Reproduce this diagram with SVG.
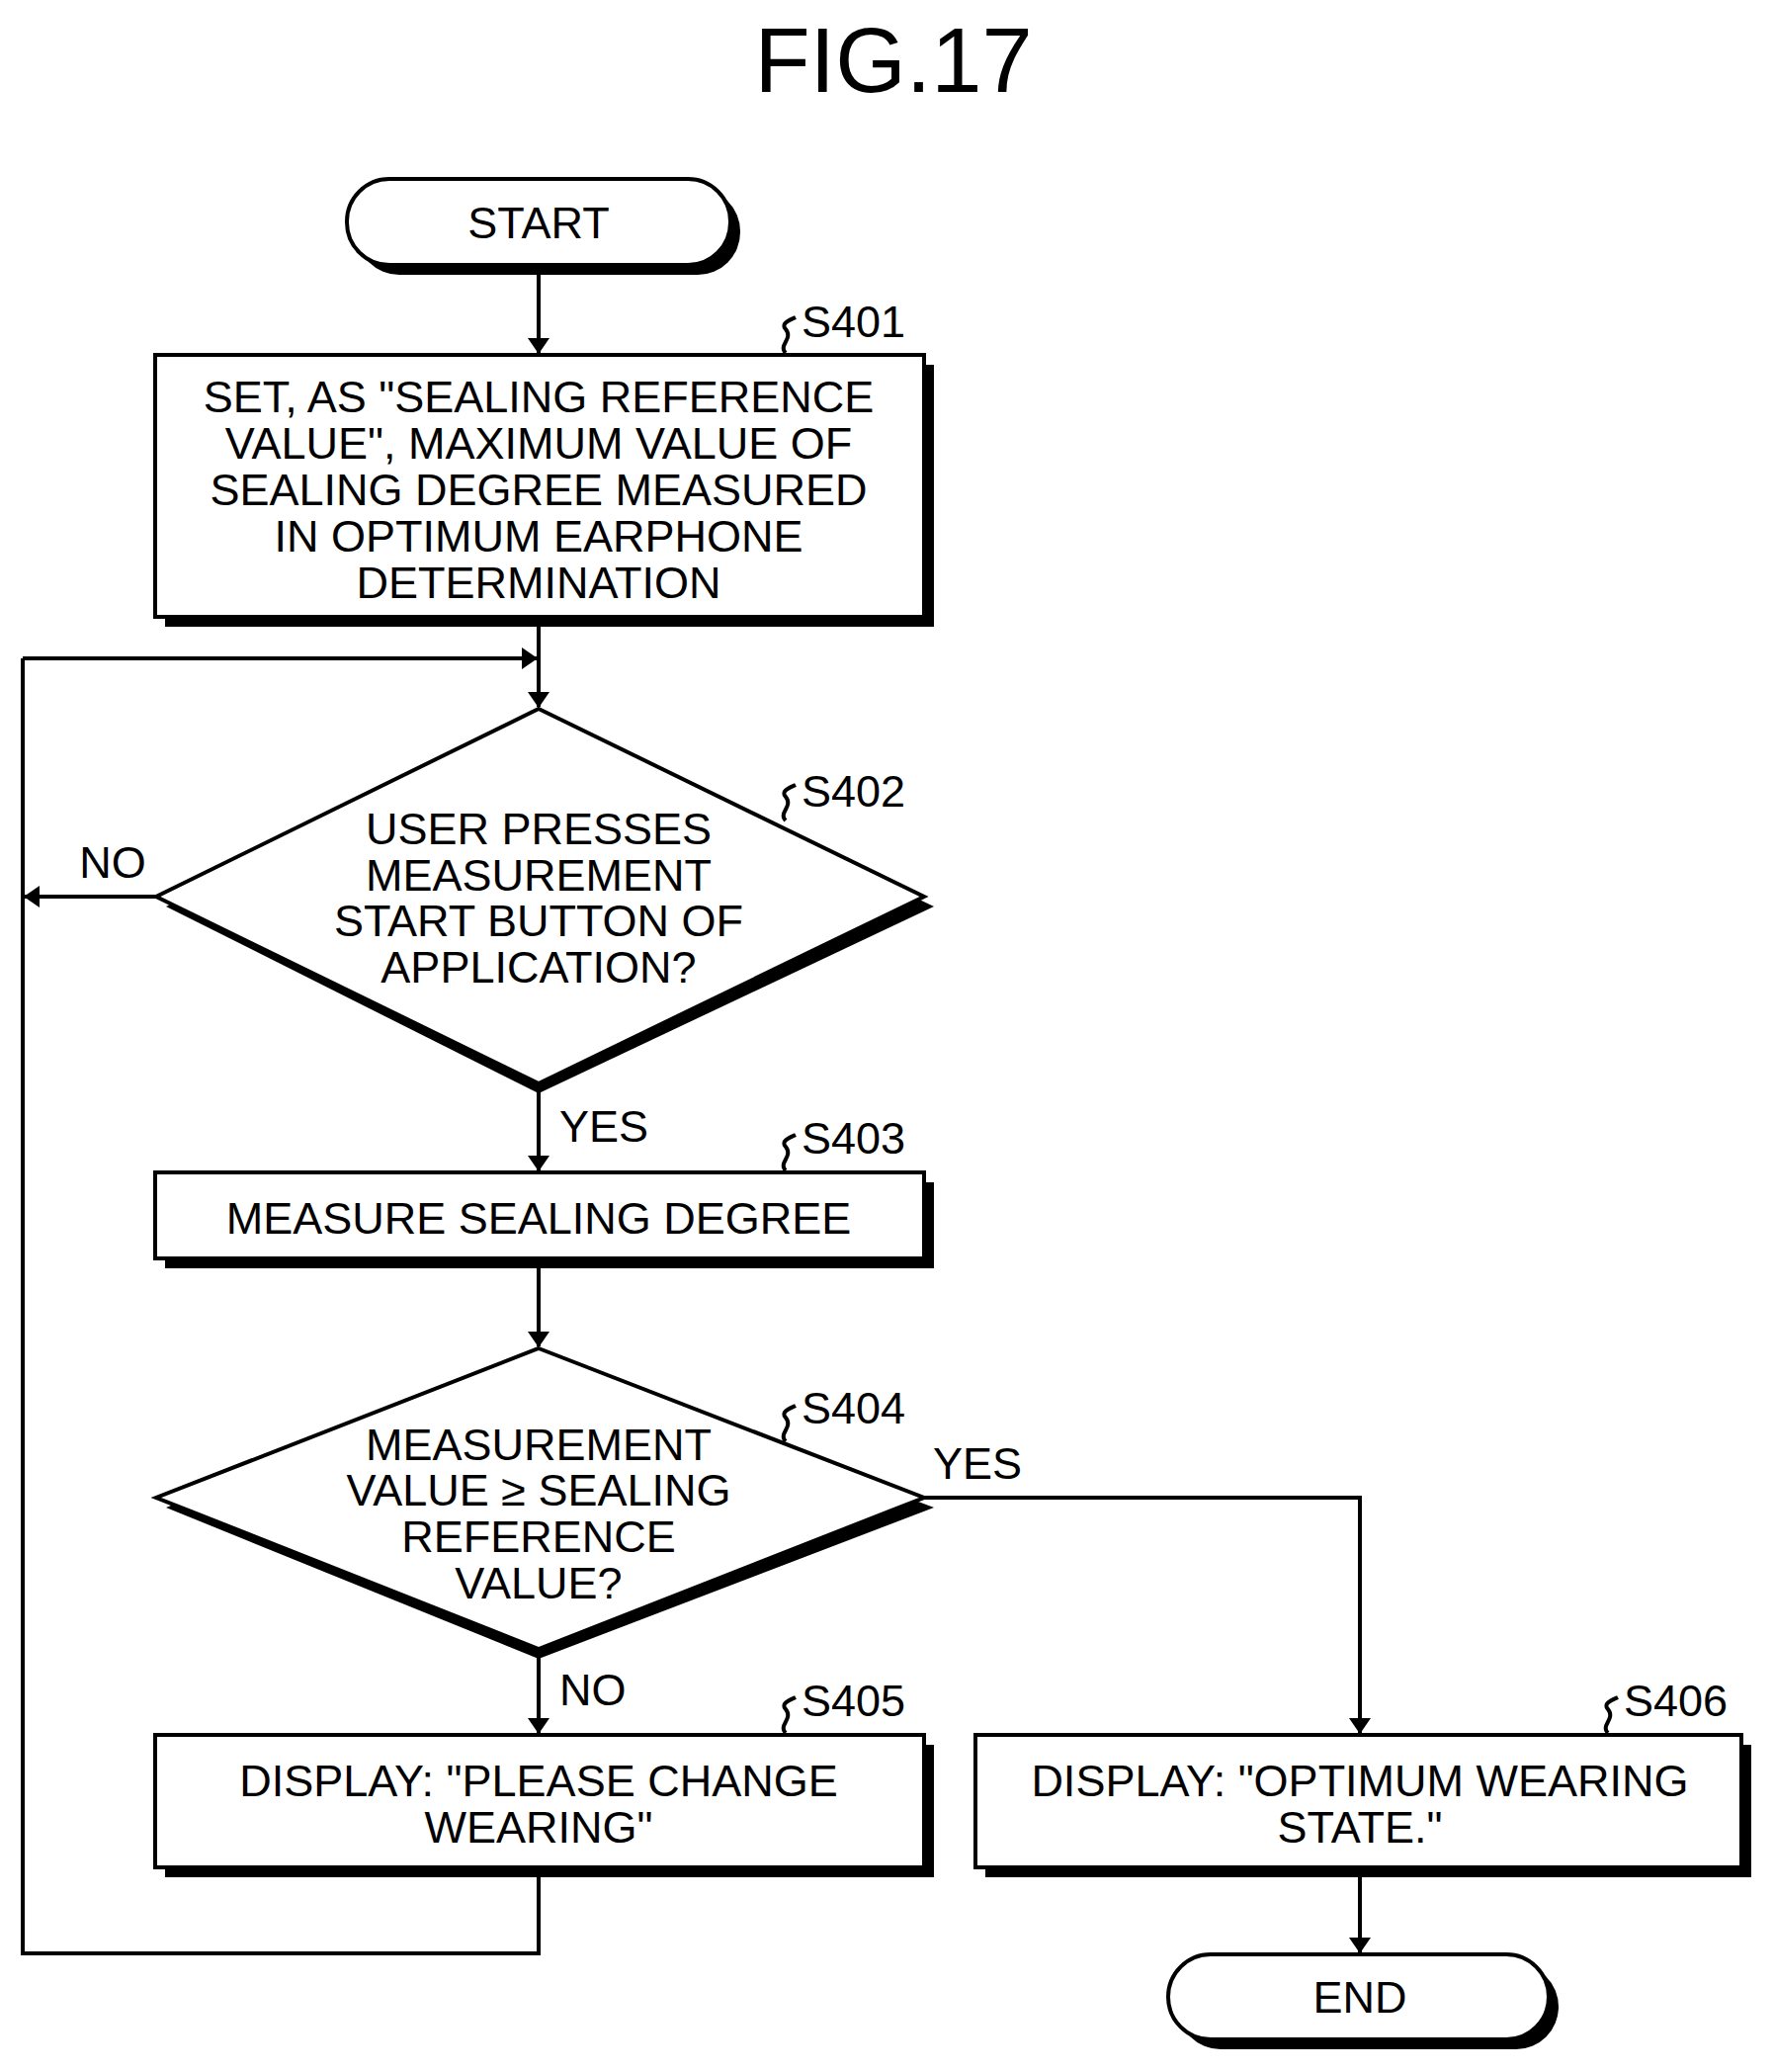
<svg xmlns="http://www.w3.org/2000/svg" width="1795" height="2096" viewBox="0 0 1795 2096">
<style>
text{font-family:"Liberation Sans",Arial,sans-serif;font-size:45px;fill:#000}
.c{text-anchor:middle}
.b{fill:#fff;stroke:#000;stroke-width:4}
.s{fill:#000}
.l{fill:none;stroke:#000;stroke-width:4}
</style>
<defs><marker id="a" markerWidth="16" markerHeight="22" refX="15" refY="11" orient="auto" markerUnits="userSpaceOnUse" viewBox="0 0 16 22"><path d="M0,0L16,11L0,22z"/></marker></defs>
<rect width="1795" height="2096" fill="#fff"/>
<text x="904" y="93" class="c" style="font-size:92px">FIG.17</text>
<g id="connectors">
<path class="l" d="M545,268V357" marker-end="url(#a)"/>
<path class="l" d="M545,624V715" marker-end="url(#a)"/>
<path class="l" d="M23,666H543" marker-end="url(#a)"/>
<path class="l" d="M158,907H25" marker-end="url(#a)"/>
<path class="l" d="M545,1096V1184" marker-end="url(#a)"/>
<path class="l" d="M545,1273V1362" marker-end="url(#a)"/>
<path class="l" d="M545,1668V1753" marker-end="url(#a)"/>
<path class="l" d="M935,1515H1376V1753" marker-end="url(#a)"/>
<path class="l" d="M545,1889V1976H23V666"/>
<path class="l" d="M1376,1889V1975" marker-end="url(#a)"/>
<text x="114" y="888" class="c">NO</text>
<text x="566" y="1155">YES</text>
<text x="944" y="1496">YES</text>
<text x="566" y="1725">NO</text>
</g>
<g id="start"><rect class="s" x="361" y="191" width="388" height="87" rx="43"/><rect class="b" x="351" y="181" width="388" height="87" rx="43"/><text x="545" y="241" class="c">START</text></g>
<g id="s401"><rect class="s" x="167" y="369" width="778" height="265"/><rect class="b" x="157" y="359" width="778" height="265"/>
<text class="c"><tspan x="545" y="417">SET, AS "SEALING REFERENCE</tspan><tspan x="545" y="464">VALUE", MAXIMUM VALUE OF</tspan><tspan x="545" y="511">SEALING DEGREE MEASURED</tspan><tspan x="545" y="558">IN OPTIMUM EARPHONE</tspan><tspan x="545" y="605">DETERMINATION</tspan></text>
<path class="l" stroke-width="2" d="M795,357c-8,-8 8,-14 0,-24c-6,-6 6,-10 10,-12"/><text x="811" y="341">S401</text></g>
<g id="s402"><path class="s" d="M545,727L945,917L545,1106L168,917z"/><path class="b" d="M545,717L935,907L545,1096L158,907z"/>
<text class="c"><tspan x="545" y="854">USER PRESSES</tspan><tspan x="545" y="901">MEASUREMENT</tspan><tspan x="545" y="947">START BUTTON OF</tspan><tspan x="545" y="994">APPLICATION?</tspan></text>
<path class="l" stroke-width="2" d="M795,830c-8,-8 8,-14 0,-24c-6,-6 6,-10 10,-12"/><text x="811" y="816">S402</text></g>
<g id="s403"><rect class="s" x="167" y="1196" width="778" height="87"/><rect class="b" x="157" y="1186" width="778" height="87"/><text x="545" y="1248" class="c">MEASURE SEALING DEGREE</text>
<path class="l" stroke-width="2" d="M795,1184c-8,-8 8,-14 0,-24c-6,-6 6,-10 10,-12"/><text x="811" y="1167">S403</text></g>
<g id="s404"><path class="s" d="M545,1374L945,1525L545,1678L168,1525z"/><path class="b" d="M545,1364L935,1515L545,1668L158,1515z"/>
<text class="c"><tspan x="545" y="1477">MEASUREMENT</tspan><tspan x="545" y="1523">VALUE ≥ SEALING</tspan><tspan x="545" y="1570">REFERENCE</tspan><tspan x="545" y="1617">VALUE?</tspan></text>
<path class="l" stroke-width="2" d="M795,1458c-8,-8 8,-14 0,-24c-6,-6 6,-10 10,-12"/><text x="811" y="1440">S404</text></g>
<g id="s405"><rect class="s" x="167" y="1765" width="778" height="134"/><rect class="b" x="157" y="1755" width="778" height="134"/>
<text class="c"><tspan x="545" y="1817">DISPLAY: "PLEASE CHANGE</tspan><tspan x="545" y="1864">WEARING"</tspan></text>
<path class="l" stroke-width="2" d="M795,1753c-8,-8 8,-14 0,-24c-6,-6 6,-10 10,-12"/><text x="811" y="1736">S405</text></g>
<g id="s406"><rect class="s" x="997" y="1765" width="775" height="134"/><rect class="b" x="987" y="1755" width="775" height="134"/>
<text class="c"><tspan x="1376" y="1817">DISPLAY: "OPTIMUM WEARING</tspan><tspan x="1376" y="1864">STATE."</tspan></text>
<path class="l" stroke-width="2" d="M1627,1753c-8,-8 8,-14 0,-24c-6,-6 6,-10 10,-12"/><text x="1643" y="1736">S406</text></g>
<g id="end"><rect class="s" x="1192" y="1987" width="385" height="86" rx="43"/><rect class="b" x="1182" y="1977" width="385" height="86" rx="43"/><text x="1376" y="2036" class="c">END</text></g>
</svg>
